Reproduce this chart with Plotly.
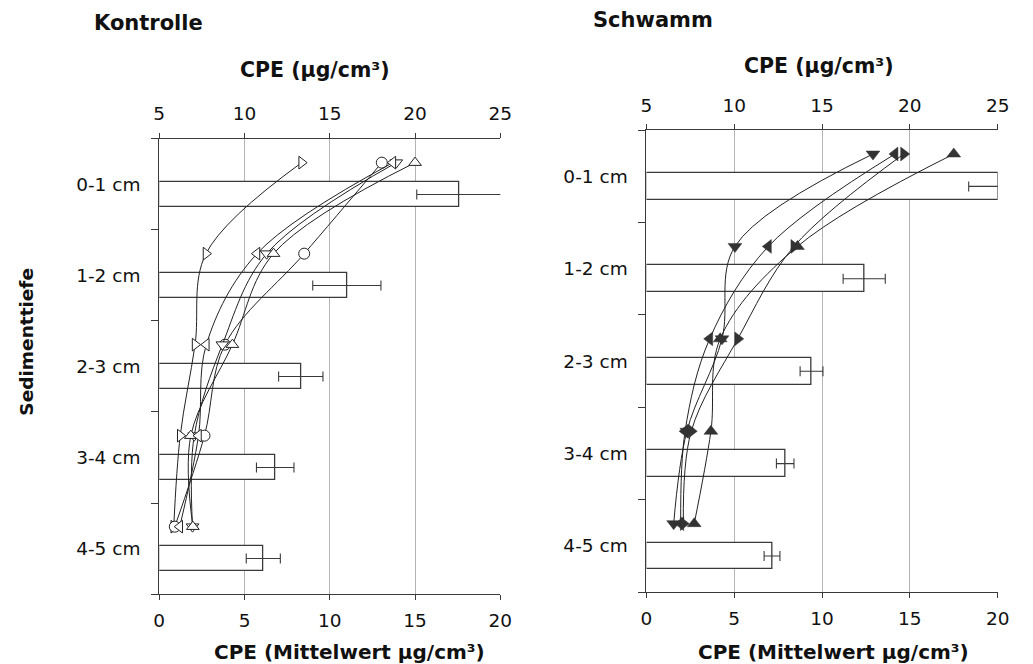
import plotly.graph_objects as go

# ---------------- data ----------------
depth_labels = ["0-1 cm", "1-2 cm", "2-3 cm", "3-4 cm", "4-5 cm"]

# Kontrolle: mean CPE (bottom axis) and error
k_mean = [17.6, 11.0, 8.3, 6.8, 6.1]
k_err = [2.5, 2.0, 1.3, 1.1, 1.0]
# Kontrolle: individual cores (top axis, CPE ug/cm3)
k_core_a = [13.35, 7.74, 7.10, 6.23, 5.85]   # triangle-right
k_core_b = [18.05, 13.50, 8.85, 7.65, 5.91]  # circle
k_core_c = [18.90, 11.30, 8.70, 7.05, 6.95]  # triangle-down
k_core_d = [20.00, 11.70, 9.29, 6.85, 6.97]  # triangle-up
k_core_e = [18.70, 10.73, 7.76, 7.30, 6.20]  # triangle-left

# Schwamm
s_mean = [20.05, 12.4, 9.4, 7.9, 7.15]
s_err = [1.7, 1.2, 0.65, 0.5, 0.45]
s_core_a = [17.90, 10.04, 9.30, 7.30, 6.55]  # triangle-down
s_core_b = [19.15, 11.94, 8.60, 7.20, 6.95]  # triangle-left
s_core_c = [19.65, 13.40, 10.20, 7.55, 7.10]  # triangle-right
s_core_d = [22.50, 13.60, 9.20, 8.67, 7.72]  # triangle-up

bottom_ticks = [0, 5, 10, 15, 20]
top_ticks = [5, 10, 15, 20, 25]
grid_vals = [5, 10, 15]

# ---------------- style ----------------
FONT = "DejaVu Sans"
AX = "#3a3a3a"
GRID = "#b4b4b4"
MARK_OFF = 0.26   # marker row position inside a depth class
BAR_OFF = 0.61    # bar centre inside a depth class

n = len(depth_labels)
y_marker = [i + MARK_OFF for i in range(n)]
y_bar = [i + BAR_OFF for i in range(n)]
y_centres = [i + 0.5 for i in range(n)]
y_bounds = list(range(n + 1))

fig = go.Figure()


def add_panel(xb, xt, ya, means, errs, bar_w, cores, open_markers):
    fig.add_trace(go.Bar(
        x=means, y=y_bar, orientation="h", width=bar_w,
        marker=dict(color="white", line=dict(color=AX, width=1.3)),
        error_x=dict(type="data", array=errs, color=AX, thickness=1.1, width=5),
        xaxis=xb, yaxis=ya, showlegend=False, hoverinfo="skip"))
    for vals, sym in cores:
        if open_markers:
            mk = dict(symbol=sym, size=11, color="white",
                      line=dict(color="#222", width=1))
        else:
            mk = dict(symbol=sym, size=12, color="#333333",
                      line=dict(color="#333333", width=0.5))
        fig.add_trace(go.Scatter(
            x=vals, y=y_marker, mode="lines+markers",
            line=dict(color="#222", width=1, shape="spline", smoothing=1.0),
            marker=mk, xaxis=xt, yaxis=ya, showlegend=False,
            hoverinfo="skip"))


add_panel("x", "x2", "y", k_mean, k_err, 0.27,
          [(k_core_a, "triangle-right"), (k_core_b, "circle"),
           (k_core_c, "triangle-down"), (k_core_d, "triangle-up"),
           (k_core_e, "triangle-left")], True)
add_panel("x3", "x4", "y2", s_mean, s_err, 0.29,
          [(s_core_a, "triangle-down"), (s_core_b, "triangle-left"),
           (s_core_c, "triangle-right"), (s_core_d, "triangle-up")], False)

tickfont = dict(family=FONT, size=18.5, color="#111")


def bottom_axis(domain, anchor):
    return dict(domain=domain, anchor=anchor, range=[0, 20],
                tickvals=bottom_ticks, ticks="outside", ticklen=5,
                tickcolor=AX, showline=True, linecolor=AX, linewidth=1.2,
                showgrid=False, zeroline=False, tickfont=tickfont,
                ticklabelstandoff=5,
                minor=dict(tickvals=grid_vals, showgrid=True,
                           gridcolor=GRID, gridwidth=1.2, ticks=""))


def top_axis(over, anchor):
    return dict(overlaying=over, anchor=anchor, side="top", range=[5, 25],
                tickvals=top_ticks, ticks="outside", ticklen=5,
                tickcolor=AX, showline=True, linecolor=AX, linewidth=1.2,
                showgrid=False, zeroline=False, tickfont=tickfont,
                ticklabelstandoff=5)


def y_axis(domain, anchor):
    return dict(domain=domain, anchor=anchor, range=[n, 0],
                tickvals=y_centres, ticktext=depth_labels, ticks="",
                showline=True, linecolor=AX, linewidth=1.2,
                showgrid=False, zeroline=False, tickfont=tickfont,
                ticklabelstandoff=14,
                minor=dict(tickvals=y_bounds, ticks="outside", ticklen=7,
                           tickcolor=AX, showgrid=False))


L_X = [0.151, 0.487]
R_X = [0.631, 0.977]
L_Y = [0.1054, 0.7907]
R_Y = [0.1084, 0.8042]


def ann(text, x, y, size=20, angle=0):
    return dict(text="<b>%s</b>" % text, x=x, y=y, xref="paper", yref="paper",
                xanchor="center", yanchor="middle", showarrow=False,
                textangle=angle, font=dict(family=FONT, size=size, color="#111"))


H = 664.0
W = 1033.0
fig.update_layout(
    width=1033, height=664,
    margin=dict(l=0, r=0, t=0, b=0),
    paper_bgcolor="white", plot_bgcolor="white",
    bargap=0, showlegend=False,
    xaxis=bottom_axis(L_X, "y"),
    xaxis2=top_axis("x", "y"),
    xaxis3=bottom_axis(R_X, "y2"),
    xaxis4=top_axis("x3", "y2"),
    yaxis=y_axis(L_Y, "x"),
    yaxis2=y_axis(R_Y, "x3"),
    annotations=[
        ann("Kontrolle", 145 / W, 1 - 23 / H, 21),
        ann("Schwamm", 658 / W, 1 - 20 / H, 21),
        ann("CPE (µg/cm³)", 314 / W, 1 - 70 / H, 20.5),
        ann("CPE (µg/cm³)", 827 / W, 1 - 66 / H, 20.5),
        ann("CPE (Mittelwert µg/cm³)", 350 / W, 1 - 652 / H, 20),
        ann("CPE (Mittelwert µg/cm³)", 842 / W, 1 - 652 / H, 20),
        ann("Sedimenttiefe", 20 / W, 1 - 342 / H, 18.5, -90),
    ],
)

fig.write_html("out.html")
